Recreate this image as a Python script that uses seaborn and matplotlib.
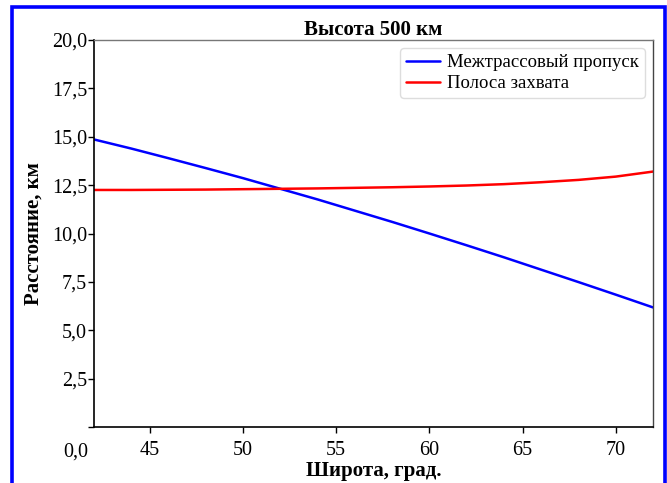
import numpy as np
import pandas as pd
import matplotlib
matplotlib.use("Agg")
import matplotlib.pyplot as plt
from matplotlib.patches import Rectangle
import seaborn as sns

# Latitude grid, degrees
latitude = [42, 44, 46, 48, 50, 52, 54, 56, 58, 60, 62, 64, 66, 68, 70, 72]

# Inter-track gap, km
gap_km = [14.86, 14.39, 13.89, 13.38, 12.86, 12.31, 11.76, 11.18,
          10.60, 10.00, 9.39, 8.77, 8.13, 7.49, 6.84, 6.18]

# Swath width, km
swath_km = [12.25, 12.25, 12.26, 12.27, 12.29, 12.31, 12.33, 12.36,
            12.39, 12.43, 12.48, 12.55, 12.65, 12.77, 12.94, 13.20]

series_names = ["Межтрассовый пропуск", "Полоса захвата"]
series_colors = ["#0000ff", "#ff0000"]

x_ticks = [45, 50, 55, 60, 65, 70]
y_ticks = [0.0, 2.5, 5.0, 7.5, 10.0, 12.5, 15.0, 17.5, 20.0]

df = pd.DataFrame({
    "lat": latitude * 2,
    "value": gap_km + swath_km,
    "series": [series_names[0]] * len(latitude) + [series_names[1]] * len(latitude),
})

sns.set_theme(style="ticks")
plt.rcParams["font.family"] = ["Liberation Serif", "DejaVu Serif"]
plt.rcParams["text.color"] = "black"
plt.rcParams["axes.labelcolor"] = "black"

fig = plt.figure(figsize=(6.67, 4.83), dpi=100)
ax = fig.add_axes([94 / 667, 1 - 427 / 483, (653 - 94) / 667, (427 - 40) / 483])

sns.lineplot(data=df, x="lat", y="value", hue="series",
             palette=dict(zip(series_names, series_colors)),
             linewidth=1.8, ax=ax, legend=True)

ax.set_xlim(42, 72)
ax.set_ylim(0, 20)
ax.set_xticks(x_ticks)
ax.set_xticklabels([str(t) for t in x_ticks])
ax.set_yticks(y_ticks)
labels = [f"{t:.1f}".replace(".", ",") for t in y_ticks]
labels[0] = ""
ax.set_yticklabels(labels)
ax.tick_params(axis="both", labelsize=14.5, length=4, width=1,
               direction="out", color="black", labelcolor="black")
ax.tick_params(axis="y", pad=1)
ax.tick_params(axis="x", pad=6)

# Zero label sits below the corner
ax.annotate("0,0", xy=(0, 0), xycoords="axes fraction",
            xytext=(-6, -25), textcoords="offset pixels",
            ha="right", va="center", fontsize=14.5, color="black")

for side in ["left", "bottom"]:
    ax.spines[side].set_color("black")
    ax.spines[side].set_linewidth(1.2)
ax.spines["top"].set_color("#777777")
ax.spines["right"].set_color("#444444")
ax.spines["top"].set_linewidth(1.0)
ax.spines["right"].set_linewidth(1.0)

ax.set_title("Высота 500 км", fontsize=15, fontweight="bold", pad=2, color="black")
ax.set_xlabel("Широта, град.", fontsize=15, fontweight="bold", labelpad=1)
ax.set_ylabel("Расстояние, км", fontsize=15, fontweight="bold", labelpad=6)

handles, lbls = ax.get_legend_handles_labels()
leg = ax.legend(handles, lbls, loc="upper right", fontsize=13.5,
                frameon=True, fancybox=True, framealpha=1,
                edgecolor="#dddddd", borderaxespad=0.45,
                handlelength=1.8, handletextpad=0.4,
                borderpad=0.3, labelspacing=0.22)
for line in leg.get_lines():
    line.set_linewidth(1.8)

# Blue frame around the figure
fig.patches.append(Rectangle((11.5 / 667, -0.05), (664.5 - 11.5) / 667, 1 - 7.5 / 483 + 0.05,
                             transform=fig.transFigure, fill=False,
                             edgecolor="#0000ff", linewidth=2.6, zorder=10))

fig.savefig("out.png", dpi=100)
